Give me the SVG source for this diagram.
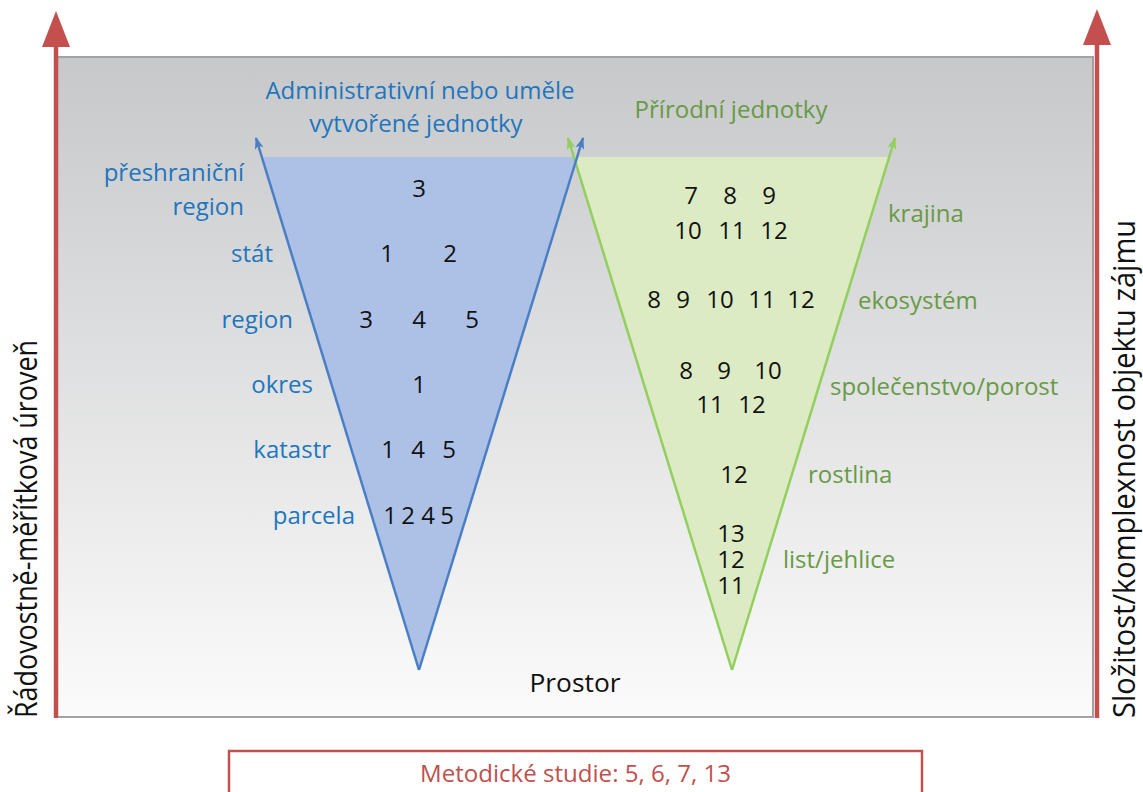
<svg xmlns="http://www.w3.org/2000/svg" width="1143" height="792" viewBox="0 0 1143 792">
  <defs>
    <linearGradient id="panelGrad" x1="0" y1="0" x2="0" y2="1">
      <stop offset="0" stop-color="#c7c8ca"/>
      <stop offset="1" stop-color="#fbfbfb"/>
    </linearGradient>
    <marker id="arrBlue" markerUnits="userSpaceOnUse" viewBox="0 0 12 10" refX="11" refY="5" markerWidth="12" markerHeight="10" orient="auto">
      <path d="M0,0.5 L12,5 L0,9.5 L3,5 Z" fill="#4a7fc6"/>
    </marker>
    <marker id="arrGreen" markerUnits="userSpaceOnUse" viewBox="0 0 12 10" refX="11" refY="5" markerWidth="12" markerHeight="10" orient="auto">
      <path d="M0,0.5 L12,5 L0,9.5 L3,5 Z" fill="#92cf5e"/>
    </marker>
  </defs>
  <style>
    .lbl { font-family: "Open Sans", "Noto Sans", sans-serif; font-size: 24px; }
    .blue { fill: #1f76be; }
    .green { fill: #689a46; }
    .num { fill: #111111; text-anchor: middle; }
    .axis { font-family: "Open Sans", "Noto Sans", sans-serif; font-size: 31px; fill: #111111; text-anchor: middle; }
    .redax { stroke: #c3504f; stroke-width: 4.5; fill: none; }
    .redhead { fill: #c3504f; }
    .bl { stroke: #4a7fc6; stroke-width: 2.5; fill: none; }
    .gl { stroke: #92cf5e; stroke-width: 2.5; fill: none; }
  </style>

  <!-- background panel -->
  <g id="panel">
    <rect x="57" y="57" width="1036" height="660" fill="url(#panelGrad)" stroke="#a2a2a2" stroke-width="2"/>
  </g>

  <!-- triangles -->
  <g id="admin-triangle">
    <polygon points="262,157 576,157 419,670" fill="#adc1e6"/>
  </g>
  <g id="natural-triangle">
    <polygon points="575,157 889,157 732,670" fill="#dcebc3"/>
  </g>

  <!-- connectors -->
  <g id="connectors">
    <line class="gl" x1="732" y1="670" x2="568" y2="138" marker-end="url(#arrGreen)"/>
    <line class="gl" x1="732" y1="670" x2="895" y2="138" marker-end="url(#arrGreen)"/>
    <line class="bl" x1="419" y1="670" x2="256" y2="138" marker-end="url(#arrBlue)"/>
    <line class="bl" x1="419" y1="670" x2="583" y2="138" marker-end="url(#arrBlue)"/>
    <line class="redax" x1="56" y1="718" x2="56" y2="40"/>
    <polygon class="redhead" points="56,11 42,47 70,47"/>
    <line class="redax" x1="1097" y1="718" x2="1097" y2="40"/>
    <polygon class="redhead" points="1097,9 1083,45 1111,45"/>
  </g>

  <!-- titles -->
  <g id="title-admin">
    <text class="lbl blue" x="420" y="99" text-anchor="middle">Administrativní nebo uměle</text>
    <text class="lbl blue" x="416" y="132" text-anchor="middle">vytvořené jednotky</text>
  </g>
  <g id="title-natural">
    <text class="lbl green" x="731" y="118" text-anchor="middle">Přírodní jednotky</text>
  </g>

  <!-- admin levels -->
  <g id="lvl-preshranicni">
    <text class="lbl blue" x="244" y="181" text-anchor="end">přeshraniční</text>
    <text class="lbl blue" x="244" y="215" text-anchor="end">region</text>
    <text class="lbl num" x="419" y="197">3</text>
  </g>
  <g id="lvl-stat">
    <text class="lbl blue" x="273" y="262" text-anchor="end">stát</text>
    <text class="lbl num" x="387" y="262">1</text>
    <text class="lbl num" x="450" y="262">2</text>
  </g>
  <g id="lvl-region">
    <text class="lbl blue" x="293" y="328" text-anchor="end">region</text>
    <text class="lbl num" x="366" y="328">3</text>
    <text class="lbl num" x="419" y="328">4</text>
    <text class="lbl num" x="472" y="328">5</text>
  </g>
  <g id="lvl-okres">
    <text class="lbl blue" x="313" y="393" text-anchor="end">okres</text>
    <text class="lbl num" x="419" y="393">1</text>
  </g>
  <g id="lvl-katastr">
    <text class="lbl blue" x="331" y="458" text-anchor="end">katastr</text>
    <text class="lbl num" x="388" y="458">1</text>
    <text class="lbl num" x="418" y="458">4</text>
    <text class="lbl num" x="449" y="458">5</text>
  </g>
  <g id="lvl-parcela">
    <text class="lbl blue" x="355" y="524" text-anchor="end">parcela</text>
    <text class="lbl num" x="390" y="524">1</text>
    <text class="lbl num" x="408" y="524">2</text>
    <text class="lbl num" x="428" y="524">4</text>
    <text class="lbl num" x="447" y="524">5</text>
  </g>

  <!-- natural levels -->
  <g id="lvl-krajina">
    <text class="lbl green" x="888" y="222">krajina</text>
    <text class="lbl num" x="691" y="204">7</text>
    <text class="lbl num" x="730" y="204">8</text>
    <text class="lbl num" x="769" y="204">9</text>
    <text class="lbl num" x="688" y="239">10</text>
    <text class="lbl num" x="732" y="239">11</text>
    <text class="lbl num" x="774" y="239">12</text>
  </g>
  <g id="lvl-ekosystem">
    <text class="lbl green" x="858" y="309">ekosystém</text>
    <text class="lbl num" x="654" y="308">8</text>
    <text class="lbl num" x="683" y="308">9</text>
    <text class="lbl num" x="720" y="308">10</text>
    <text class="lbl num" x="762" y="308">11</text>
    <text class="lbl num" x="801" y="308">12</text>
  </g>
  <g id="lvl-spolecenstvo">
    <text class="lbl green" x="830" y="395">společenstvo/porost</text>
    <text class="lbl num" x="686" y="379">8</text>
    <text class="lbl num" x="724" y="379">9</text>
    <text class="lbl num" x="768" y="379">10</text>
    <text class="lbl num" x="710" y="413">11</text>
    <text class="lbl num" x="752" y="413">12</text>
  </g>
  <g id="lvl-rostlina">
    <text class="lbl green" x="808" y="483">rostlina</text>
    <text class="lbl num" x="734" y="483">12</text>
  </g>
  <g id="lvl-list">
    <text class="lbl green" x="783" y="568">list/jehlice</text>
    <text class="lbl num" x="731" y="542">13</text>
    <text class="lbl num" x="731" y="568">12</text>
    <text class="lbl num" x="731" y="594">11</text>
  </g>

  <!-- axis labels -->
  <g id="label-prostor">
    <text x="575" y="692" font-family="'Open Sans', 'Noto Sans', sans-serif" font-size="26" fill="#111111" text-anchor="middle" textLength="91" lengthAdjust="spacingAndGlyphs">Prostor</text>
  </g>
  <g id="label-left-axis">
    <text class="axis" transform="translate(37,529) rotate(-90)" textLength="378" lengthAdjust="spacingAndGlyphs">Řádovostně-měřítková úroveň</text>
  </g>
  <g id="label-right-axis">
    <text class="axis" transform="translate(1135,469) rotate(-90)" textLength="498" lengthAdjust="spacingAndGlyphs">Složitost/komplexnost objektu zájmu</text>
  </g>

  <!-- methodological studies box -->
  <g id="box-metodicke">
    <rect x="229" y="751" width="693" height="60" fill="#ffffff" stroke="#c3504f" stroke-width="2.5"/>
    <text x="575.5" y="782" font-family="'Open Sans', 'Noto Sans', sans-serif" font-size="24" fill="#c0504d" text-anchor="middle" textLength="311" lengthAdjust="spacingAndGlyphs">Metodické studie: 5, 6, 7, 13</text>
  </g>
</svg>
